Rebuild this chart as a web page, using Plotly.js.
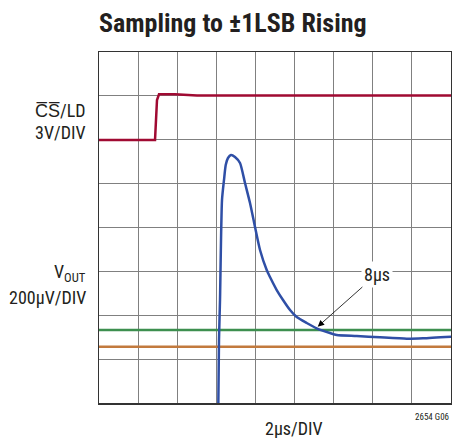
<!DOCTYPE html>
<html><head><meta charset="utf-8">
<script src="https://cdn.plot.ly/plotly-3.0.1.min.js"></script>
<style>html,body{margin:0;padding:0;background:#fff}</style>
</head><body><div id="chart" style="width:452px;height:438px"></div>
<script>
// time in divisions (2µs/DIV), amplitude in divisions
const csX = [0, 1.432, 1.483, 1.534, 1.943, 2.506, 9];
const csY = [5.994, 5.994, 6.906, 7.036, 7.036, 7.009, 7.009];

const voutX = [3.05, 3.068, 3.094, 3.145, 3.196, 3.24, 3.298, 3.375, 3.477, 3.605, 3.733, 3.861, 3.989, 4.117, 4.288, 4.372, 4.544, 4.705, 4.884, 5.055, 5.311, 5.566, 5.906, 6.078, 6.589, 7.185, 7.868, 8.284, 9];
const voutY = [-0.1, 1.436, 2.348, 4.627, 5.083, 5.425, 5.584, 5.653, 5.607, 5.470, 5.014, 4.558, 4.011, 3.487, 3.031, 2.871, 2.575, 2.348, 2.120, 1.960, 1.823, 1.703, 1.595, 1.550, 1.527, 1.497, 1.466, 1.475, 1.511];

const upperBand = 1.664;   // +1LSB
const lowerBand = 1.283;   // -1LSB

const NARROW = '"Liberation Sans Narrow", "Roboto Condensed", "Liberation Sans", sans-serif';

const traces = [
  {x: [0, 9], y: [upperBand, upperBand], mode: 'lines', line: {color: '#3d8f4f', width: 2.5}, hoverinfo: 'skip'},
  {x: [0, 9], y: [lowerBand, lowerBand], mode: 'lines', line: {color: '#c27a3e', width: 2.5}, hoverinfo: 'skip'},
  {x: csX, y: csY, mode: 'lines', line: {color: '#a00a32', width: 2.5}, hoverinfo: 'skip'},
  {x: voutX, y: voutY, mode: 'lines', line: {color: '#2f4fa6', width: 2.5, shape: 'spline', smoothing: 0.6}, hoverinfo: 'skip'}
];

const layout = {
  width: 452, height: 438,
  margin: {l: 99, r: 1, t: 52, b: 35},
  showlegend: false,
  paper_bgcolor: '#fff', plot_bgcolor: '#fff',
  xaxis: {range: [0, 9], dtick: 1, tick0: 0, showgrid: true, gridcolor: '#808080', gridwidth: 1, showticklabels: false, ticks: '', zeroline: false, showline: true, mirror: true, linecolor: '#333', linewidth: 1.5, fixedrange: true},
  yaxis: {range: [0, 8], dtick: 1, tick0: 0, showgrid: true, gridcolor: '#808080', gridwidth: 1, showticklabels: false, ticks: '', zeroline: false, showline: true, mirror: true, linecolor: '#333', linewidth: 1.5, fixedrange: true},
  annotations: [
    {xref: 'paper', yref: 'paper', x: (233-99)/352, y: (403-23)/351, xanchor: 'center', yanchor: 'middle', showarrow: false,
     text: '<b>Sampling to ±1LSB Rising</b>', font: {family: NARROW, size: 26, color: '#231f20'}},
    {xref: 'paper', yref: 'paper', x: -11/352, y: (403-110)/351, xanchor: 'right', yanchor: 'middle', showarrow: false,
     text: 'C\u0305S\u0305/LD', font: {family: NARROW, size: 18, color: '#231f20'}},
    {xref: 'paper', yref: 'paper', x: -11/352, y: (403-132)/351, xanchor: 'right', yanchor: 'middle', showarrow: false,
     text: '3V/DIV', font: {family: NARROW, size: 18, color: '#231f20'}},
    {xref: 'paper', yref: 'paper', x: -11/352, y: (403-273)/351, xanchor: 'right', yanchor: 'middle', showarrow: false,
     text: 'V<sub>OUT</sub>', font: {family: NARROW, size: 18, color: '#231f20'}},
    {xref: 'paper', yref: 'paper', x: -11/352, y: (403-297)/351, xanchor: 'right', yanchor: 'middle', showarrow: false,
     text: '200µV/DIV', font: {family: NARROW, size: 18, color: '#231f20'}},
    {xref: 'paper', yref: 'paper', x: (294-99)/352, y: (403-428)/351, xanchor: 'center', yanchor: 'middle', showarrow: false,
     text: '2µs/DIV', font: {family: NARROW, size: 18, color: '#231f20'}},
    {xref: 'paper', yref: 'paper', x: 1, y: (403-417)/351, xanchor: 'right', yanchor: 'middle', showarrow: false,
     text: '2654 G06', font: {family: NARROW, size: 9, color: '#231f20'}},
    {xref: 'x', yref: 'y', x: 5.592, y: 1.74, axref: 'x', ayref: 'y', ax: 7.108, ay: 2.94,
     text: '8µs', showarrow: true, arrowhead: 2, arrowsize: 1.6, arrowwidth: 0.8, arrowcolor: '#000',
     bgcolor: '#fff', borderpad: 2, font: {family: NARROW, size: 18, color: '#231f20'}}
  ]
};
Plotly.newPlot('chart', traces, layout, {staticPlot: true});
</script></body></html>
